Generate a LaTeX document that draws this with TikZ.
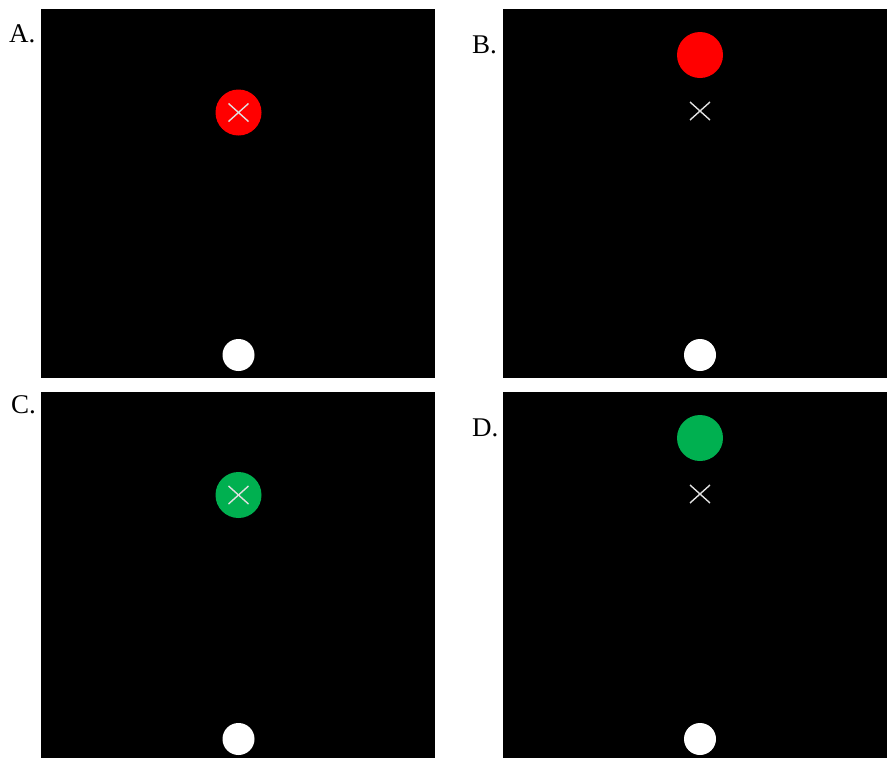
\documentclass[tikz,border=0pt]{standalone}
\usepackage{fontspec}
\setmainfont{Liberation Serif}
\definecolor{pgreen}{HTML}{00B050}
\definecolor{pred}{HTML}{FF0000}
\definecolor{xgray}{HTML}{E0E0E0}
\begin{document}
\begin{tikzpicture}[x=1pt,y=-1pt,
  panel/.style={fill=black},
  lab/.style={anchor=base west,inner sep=0pt,font=\fontsize{27}{27}\selectfont},
  target/.style={circle,inner sep=0pt,minimum size=46pt},
  home/.style={circle,fill=white,inner sep=0pt,minimum size=32pt},
  fix/.style={draw=xgray,line width=1.4pt}]
\useasboundingbox (0,0) rectangle (887,758);
% panels
\fill[panel] (41,9) rectangle (435,378);
\fill[panel] (503,9) rectangle (887,378);
\fill[panel] (41,392) rectangle (435,758);
\fill[panel] (503,392) rectangle (887,758);
% labels
\node[lab] (la) at (9,42) {A.};
\node[lab] (lb) at (472,53) {B.};
\node[lab] (lc) at (11,413) {C.};
\node[lab] (ld) at (472,436) {D.};
% A
\node[target,fill=pred] (ta) at (238.5,112.5) {};
\coordinate (xa) at (238.5,112.5);
\draw[fix] ([shift={(-10,-9)}]xa) -- ([shift={(10,9)}]xa);
\draw[fix] ([shift={(-10,9)}]xa) -- ([shift={(10,-9)}]xa);
\node[home] (ha) at (238.5,355) {};
% B
\node[target,fill=pred] (tb) at (700,55) {};
\coordinate (xb) at (700,111);
\draw[fix] ([shift={(-10,-9)}]xb) -- ([shift={(10,9)}]xb);
\draw[fix] ([shift={(-10,9)}]xb) -- ([shift={(10,-9)}]xb);
\node[home] (hb) at (700,355) {};
% C
\node[target,fill=pgreen] (tc) at (238.5,495) {};
\coordinate (xc) at (238.5,495);
\draw[fix] ([shift={(-10,-9)}]xc) -- ([shift={(10,9)}]xc);
\draw[fix] ([shift={(-10,9)}]xc) -- ([shift={(10,-9)}]xc);
\node[home] (hc) at (238.5,739) {};
% D
\node[target,fill=pgreen] (td) at (700,438) {};
\coordinate (xd) at (700,494);
\draw[fix] ([shift={(-10,-9)}]xd) -- ([shift={(10,9)}]xd);
\draw[fix] ([shift={(-10,9)}]xd) -- ([shift={(10,-9)}]xd);
\node[home] (hd) at (700,739) {};
\end{tikzpicture}
\end{document}
